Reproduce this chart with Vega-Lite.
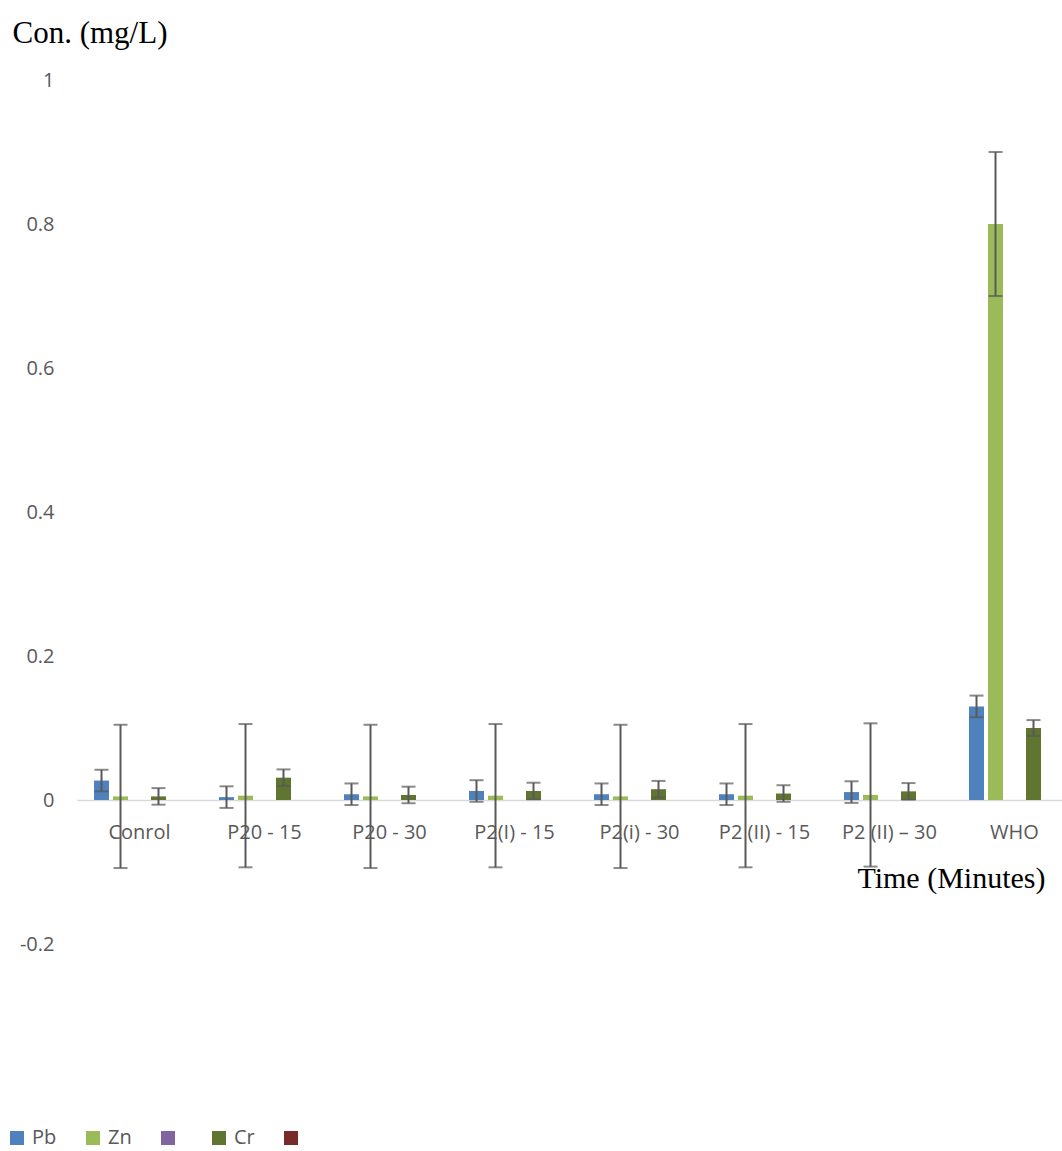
{
  "$schema": "https://vega.github.io/schema/vega-lite/v6.json",
  "autosize": {"type": "none"},
  "width": 985,
  "height": 864,
  "padding": {"left": 77, "top": 80, "right": 0, "bottom": 207},
  "background": "white",
  "config": {"view": {"stroke": null}},
  "data": {"values": [
    {"cat": "Conrol", "series": "Pb", "val": 0.027, "lo": 0.012, "hi": 0.042},
    {"cat": "Conrol", "series": "Zn", "val": 0.005, "lo": -0.0945, "hi": 0.1045},
    {"cat": "Conrol", "series": "Cr", "val": 0.005, "lo": -0.0065, "hi": 0.0165},
    {"cat": "P20 - 15", "series": "Pb", "val": 0.004, "lo": -0.011, "hi": 0.019},
    {"cat": "P20 - 15", "series": "Zn", "val": 0.006, "lo": -0.0935, "hi": 0.1055},
    {"cat": "P20 - 15", "series": "Cr", "val": 0.031, "lo": 0.0195, "hi": 0.0425},
    {"cat": "P20 - 30", "series": "Pb", "val": 0.008, "lo": -0.007, "hi": 0.023},
    {"cat": "P20 - 30", "series": "Zn", "val": 0.005, "lo": -0.0945, "hi": 0.1045},
    {"cat": "P20 - 30", "series": "Cr", "val": 0.007, "lo": -0.0045, "hi": 0.0185},
    {"cat": "P2(I) - 15", "series": "Pb", "val": 0.0125, "lo": -0.0025, "hi": 0.0275},
    {"cat": "P2(I) - 15", "series": "Zn", "val": 0.006, "lo": -0.0935, "hi": 0.1055},
    {"cat": "P2(I) - 15", "series": "Cr", "val": 0.0125, "lo": 0.001, "hi": 0.024},
    {"cat": "P2(i) - 30", "series": "Pb", "val": 0.008, "lo": -0.007, "hi": 0.023},
    {"cat": "P2(i) - 30", "series": "Zn", "val": 0.005, "lo": -0.0945, "hi": 0.1045},
    {"cat": "P2(i) - 30", "series": "Cr", "val": 0.015, "lo": 0.0035, "hi": 0.0265},
    {"cat": "P2 (II) - 15", "series": "Pb", "val": 0.008, "lo": -0.007, "hi": 0.023},
    {"cat": "P2 (II) - 15", "series": "Zn", "val": 0.006, "lo": -0.0935, "hi": 0.1055},
    {"cat": "P2 (II) - 15", "series": "Cr", "val": 0.009, "lo": -0.0025, "hi": 0.0205},
    {"cat": "P2 (II) – 30", "series": "Pb", "val": 0.011, "lo": -0.004, "hi": 0.026},
    {"cat": "P2 (II) – 30", "series": "Zn", "val": 0.007, "lo": -0.0925, "hi": 0.1065},
    {"cat": "P2 (II) – 30", "series": "Cr", "val": 0.012, "lo": 0.0005, "hi": 0.0235},
    {"cat": "WHO", "series": "Pb", "val": 0.13, "lo": 0.115, "hi": 0.145},
    {"cat": "WHO", "series": "Zn", "val": 0.8, "lo": 0.7, "hi": 0.9},
    {"cat": "WHO", "series": "Cr", "val": 0.1, "lo": 0.089, "hi": 0.111}
  ]},
  "encoding": {
    "x": {
      "field": "cat", "type": "nominal", "sort": null,
      "scale": {"range": [0, 1000], "paddingInner": 0.272, "paddingOuter": 0.136},
      "axis": {
        "title": "Time (Minutes)",
        "titleFont": "Liberation Serif", "titleFontSize": 30, "titleFontWeight": "normal", "titleColor": "#000000",
        "titleAlign": "right", "titleAnchor": null, "titleX": 968, "titleY": 87, "titleBaseline": "alphabetic",
        "offset": -144,
        "domainColor": "#d9d9d9", "domainWidth": 1.5,
        "ticks": false, "tickSize": 0,
        "labelAngle": 0, "labelFont": "Open Sans", "labelFontSize": 20, "labelColor": "#595959",
        "labelBaseline": "alphabetic", "labelPadding": 38, "labelOverlap": false
      }
    },
    "xOffset": {
      "field": "series", "type": "nominal",
      "scale": {"domain": ["Pb", "Zn", "S3", "Cr", "S5"], "paddingInner": 0.21, "paddingOuter": 0}
    }
  },
  "layer": [
    {
      "mark": {"type": "bar"},
      "encoding": {
        "y": {
          "field": "val", "type": "quantitative",
          "scale": {"domain": [-0.2, 1], "nice": false, "zero": false},
          "axis": {
            "values": [-0.2, 0, 0.2, 0.4, 0.6, 0.8, 1],
            "labelExpr": "datum.value < 0 ? '-' + format(-datum.value, '~g') : format(datum.value, '~g')",
            "domain": false, "ticks": false, "tickSize": 0, "grid": false,
            "labelFont": "Open Sans", "labelFontSize": 20, "labelColor": "#595959", "labelPadding": 23,
            "title": "Con. (mg/L)",
            "titleFont": "Liberation Serif", "titleFontSize": 31, "titleFontWeight": "normal", "titleColor": "#000000",
            "titleAngle": 0, "titleAlign": "left", "titleAnchor": null, "titleBaseline": "alphabetic",
            "titleX": -65, "titleY": -38
          }
        },
        "color": {
          "field": "series", "type": "nominal",
          "scale": {"domain": ["Pb", "Zn", "S3", "Cr", "S5"], "range": ["#4F81BD", "#9BBB59", "#8064A2", "#5F7530", "#772C2A"]},
          "legend": {
            "title": null, "orient": "none", "legendX": -70, "legendY": 1048,
            "direction": "horizontal", "symbolType": "square", "symbolSize": 196, "symbolStrokeWidth": 0,
            "labelFont": "Open Sans", "labelFontSize": 20, "labelColor": "#595959", "labelOffset": 5,
            "columnPadding": 26, "padding": 0,
            "labelExpr": "(datum.label == 'S3' || datum.label == 'S5') ? '' : datum.label"
          }
        }
      }
    },
    {
      "mark": {"type": "rule", "color": "#595959", "strokeWidth": 2},
      "encoding": {
        "y": {"field": "lo", "type": "quantitative"},
        "y2": {"field": "hi"}
      }
    },
    {
      "mark": {"type": "tick", "color": "#595959", "thickness": 2, "size": 14, "orient": "horizontal"},
      "encoding": {"y": {"field": "lo", "type": "quantitative"}}
    },
    {
      "mark": {"type": "tick", "color": "#595959", "thickness": 2, "size": 14, "orient": "horizontal"},
      "encoding": {"y": {"field": "hi", "type": "quantitative"}}
    }
  ]
}
